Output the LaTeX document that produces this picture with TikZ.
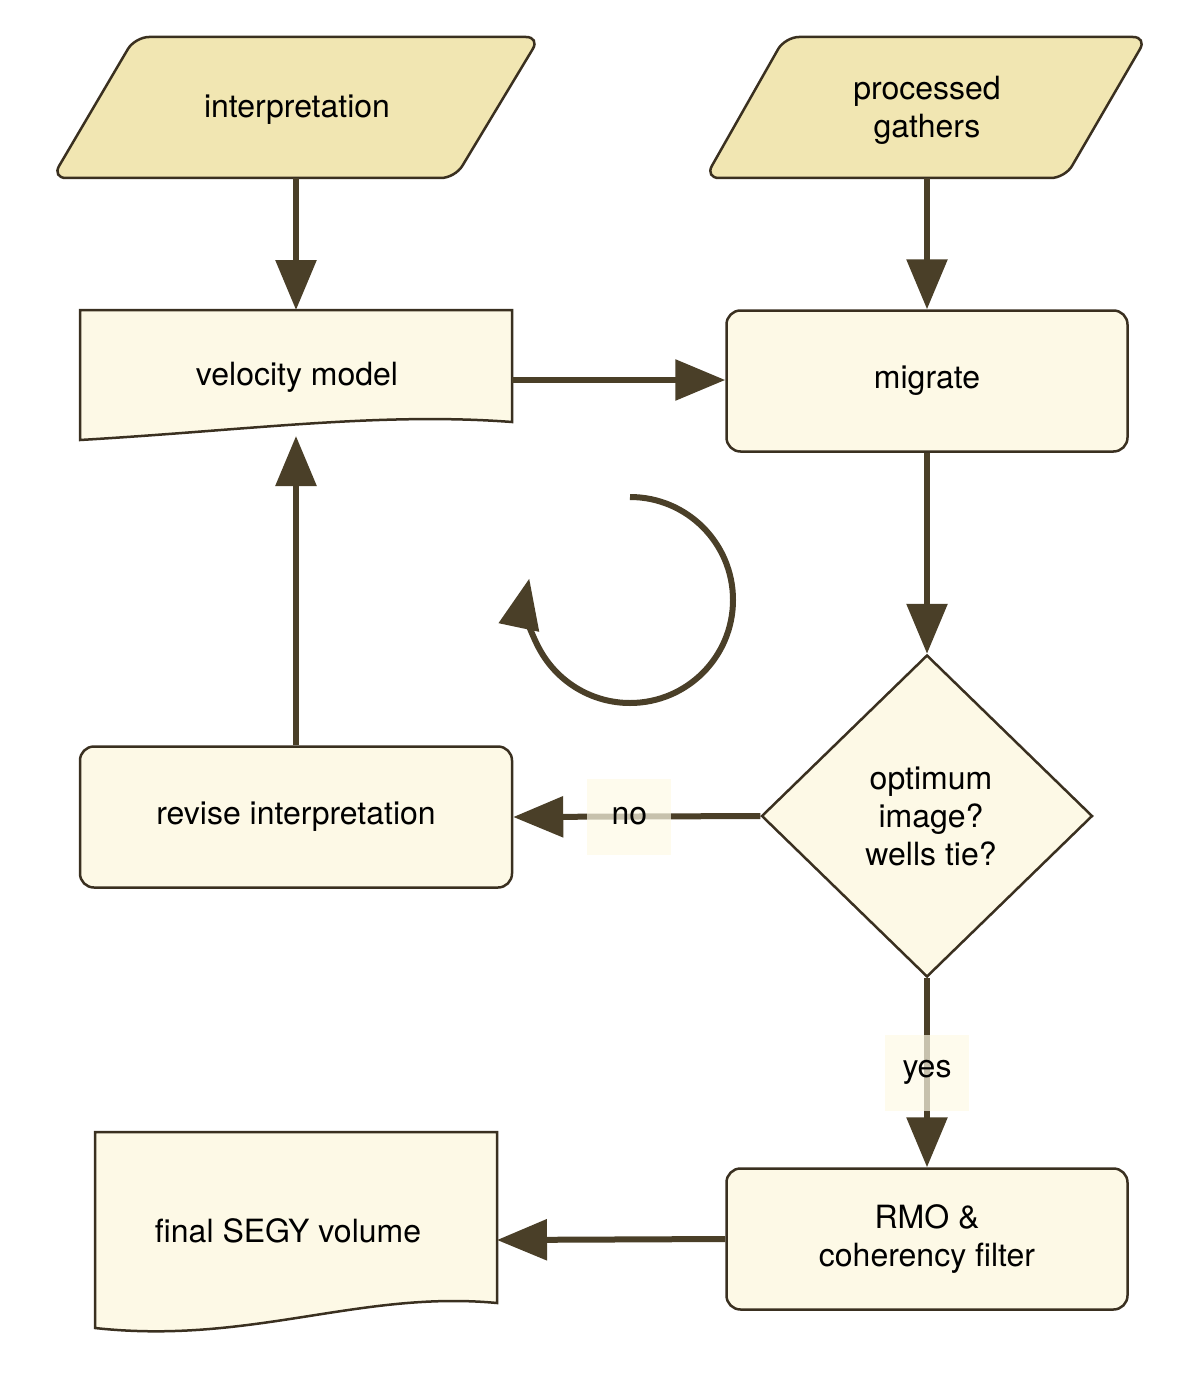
\documentclass[tikz,border=0pt]{standalone}
\usepackage{fontspec}
\setmainfont{TeX Gyre Heros}
\usetikzlibrary{arrows.meta,shapes.geometric,positioning,calc}
\definecolor{flowline}{RGB}{74,63,40}
\definecolor{flowedge}{RGB}{58,48,32}
\definecolor{iofill}{RGB}{241,230,178}
\definecolor{stepfill}{RGB}{253,249,230}
\begin{document}
\begin{tikzpicture}[
    x=1pt, y=-1pt,
    font=\fontsize{32}{38}\selectfont,
    proc/.style={rectangle, draw=flowedge, line width=2.5pt, fill=stepfill, rounded corners=14pt, minimum width=401pt, minimum height=141pt, align=center},
    txt/.style={align=center, inner sep=0pt},
    io/.style={draw=flowedge, line width=2.5pt, fill=iofill, rounded corners=14pt},
    doc/.style={draw=flowedge, line width=2.5pt, fill=stepfill},
    flow/.style={draw=flowline, line width=6pt, -{Triangle[length=50pt,width=40pt]}},
    tag/.style={fill=stepfill, fill opacity=0.7, text opacity=1, minimum width=84pt, minimum height=76pt}
]
    \useasboundingbox (0,0) rectangle (1200,1383);

    % inputs
    \path[io] (135,37) -- (540,37) -- (455,178) -- (52,178) -- cycle;
    \node[txt] (interp) at (297,110) {interpretation};
    \path[io] (785,37) -- (1147,37) -- (1065,178) -- (705,178) -- cycle;
    \node[txt] (gathers) at (927,110) {processed\\gathers};
    \coordinate (interpB) at (296,178);
    \coordinate (gathersB) at (927,178);

    % velocity model (document)
    \path[doc] (80,310) -- (512,310) -- (512,422) .. controls (380,412) and (250,430) .. (80,440) -- cycle;
    \node[txt] (velo) at (297,377) {velocity model};
    \coordinate (veloT) at (296,310);
    \coordinate (veloR) at (512,380);
    \coordinate (veloB) at (296,436);

    \node[proc] (migrate) at (927,381) {migrate};
    \node[diamond, draw=flowedge, line width=2.5pt, fill=stepfill, minimum width=331pt, minimum height=322pt, inner sep=0pt] (check) at (927,816) {};
    \node[txt] at (931,816) {optimum\\image?\\wells tie?};
    \node[proc, minimum width=432pt] (revise) at (296,817) {revise interpretation};
    \node[proc] (rmo) at (927,1239) {RMO \&\\coherency filter};

    % final volume (document)
    \path[doc] (95,1132) -- (497,1132) -- (497,1303) .. controls (360,1290) and (250,1345) .. (95,1328) -- cycle;
    \node[txt] (segy) at (288,1231) {final SEGY volume};
    \coordinate (segyR) at (497,1240);

    % connectors
    \draw[flow] (interpB) -- (veloT);
    \draw[flow] (gathersB) -- (migrate.north);
    \draw[flow] (veloR) -- (migrate.west |- veloR);
    \draw[flow] (migrate.south) -- (check.north);
    \draw[flow] (check.west) -- (revise.east) node[tag, pos=0.53] {no};
    \draw[flow] (check.south) -- (rmo.north) node[tag, pos=0.5] {yes};
    \draw[flow] (revise.north) -- (veloB);
    \draw[flow] (rmo.west) -- (segyR);

    % loop symbol
    \coordinate (loopc) at (630,600);
    \draw[flow] (630,497) arc[start angle=-90, end angle=192, radius=103];
\end{tikzpicture}
\end{document}
